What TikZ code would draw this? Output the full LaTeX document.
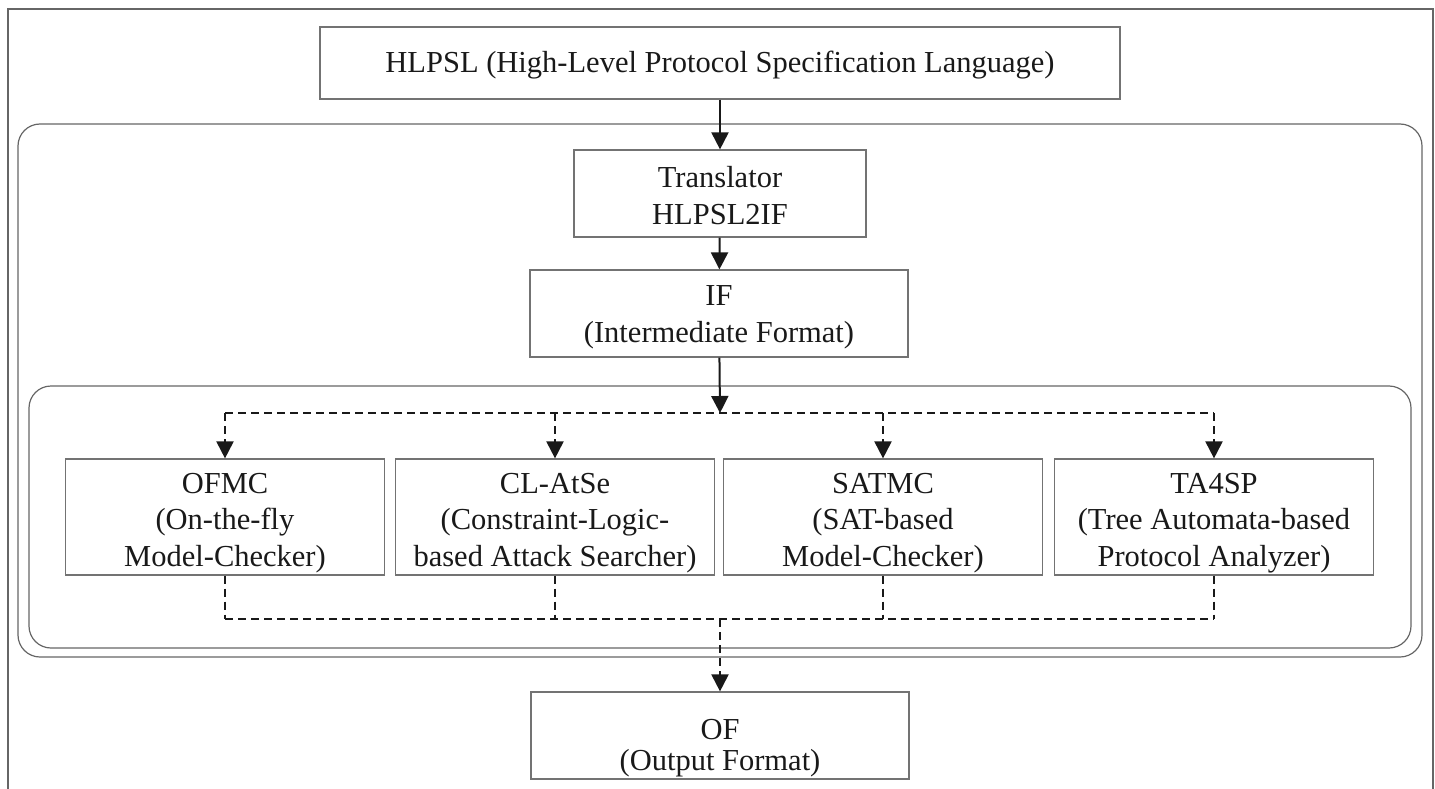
\documentclass[tikz,border=0pt]{standalone}
\usepackage{fontspec}
\setmainfont{Liberation Serif}
\usetikzlibrary{arrows.meta}
\tikzset{
  blk/.style={draw=black!55, line width=1.2pt, align=center, inner sep=0pt, text=black!90,
    text depth=0pt, font=\fontsize{30.5}{36.5}\selectfont},
  flow/.style={line width=2pt, black!90, -{Triangle[length=17pt,width=17pt]}},
  dflow/.style={flow, dash pattern=on 8pt off 5pt},
  dline/.style={line width=2pt, black!90, dash pattern=on 8pt off 5pt},
  frame/.style={draw=black!60, line width=1.2pt, rounded corners=22pt},
}
\begin{document}
\begin{tikzpicture}[x=1pt,y=-1pt]
        \useasboundingbox (0,0) rectangle (1435,789);
        \draw[black!60, line width=1.2pt] (8,789) -- (8,9) -- (1433,9) -- (1433,789);
        \draw[frame] (18,124) rectangle (1422,657);
        \draw[frame] (29,386) rectangle (1411,648);
        \node[blk, text height=20pt, minimum width=800pt, minimum height=72pt] (hlpsl) at (720,63) {HLPSL (High-Level Protocol Specification Language)};
        \node[blk, text height=61pt, minimum width=292pt, minimum height=87pt] (trans) at (720,193.5) {Translator\\HLPSL2IF};
        \node[blk, text height=57pt, minimum width=378pt, minimum height=87pt] (if) at (719,313.5) {IF\\(Intermediate Format)};
        \foreach \n/\x/\t in {ofmc/225/{OFMC\\(On-the-fly\\Model-Checker)},
                              clatse/555/{CL-AtSe\\(Constraint-Logic-\\based Attack Searcher)},
                              satmc/883/{SATMC\\(SAT-based\\Model-Checker)},
                              ta4sp/1214/{TA4SP\\(Tree Automata-based\\Protocol Analyzer)}}
            \node[blk, text height=98pt, minimum width=319pt, minimum height=116pt] (\n) at (\x,517) {\t};
        \node[blk, text height=69pt, font=\fontsize{30.5}{30.5}\selectfont, minimum width=378pt, minimum height=87pt] (of) at (720,735.5) {OF\\(Output Format)};
        \coordinate (split) at (720,413);
        \coordinate (merge) at (720,619);
        \draw[flow] (hlpsl) -- (trans);
        \draw[flow] (trans) -- (if);
        \draw[flow] (if) -- (split);
        \draw[dline] (ofmc.north |- split) -- (ta4sp.north |- split);
        \draw[dline] (ofmc.south |- merge) -- (ta4sp.south |- merge);
        \foreach \n in {ofmc,clatse,satmc,ta4sp} {
            \draw[dflow] (\n.north |- split) -- (\n.north);
            \draw[dline] (\n.south) -- (\n.south |- merge);
        }
        \draw[dflow] (merge) -- (of);
    \end{tikzpicture}
\end{document}
